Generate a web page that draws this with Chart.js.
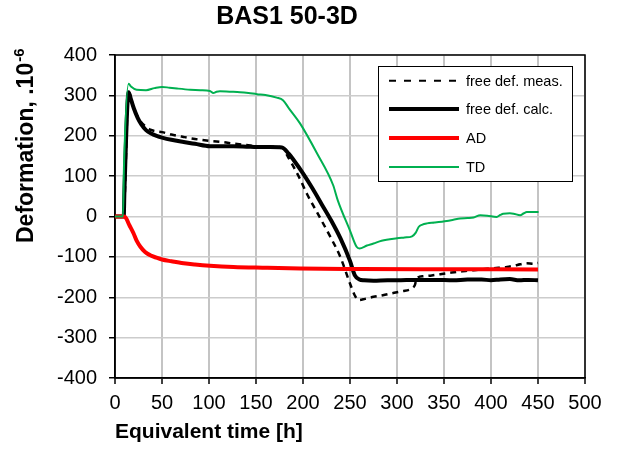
<!DOCTYPE html>
<html>
<head>
<meta charset="utf-8">
<script src="https://cdn.jsdelivr.net/npm/chart.js@4.4.0/dist/chart.umd.min.js"></script>
<style>
  body { margin: 0; background: #fff; }
</style>
</head>
<body>
<canvas id="chart" width="624" height="450"></canvas>
<script>
// data (time in h, deformation in 1e-6)
const measT = [0, 9, 14.5, 20, 27, 33, 37.5, 44, 50, 60, 73, 85, 101, 115, 126, 140, 151, 165, 177.6, 184, 190, 197, 204, 215, 229, 239.7, 250, 255, 259, 266, 275, 285, 293, 305, 316, 319, 321, 328, 337, 346, 355, 364, 373, 381.5, 390, 399, 408, 417, 428, 438, 445, 450];
const measY = [0, 0, 308, 268, 236, 222, 215, 211, 209, 203, 197, 192, 187, 184, 180.6, 177, 174, 173, 171, 148, 123, 92, 57, 10, -50, -100, -166, -195, -207, -204, -199, -195, -191, -185, -178, -170, -153, -148, -146, -143, -140, -137, -135, -133, -131, -129, -127, -125, -120, -116, -117, -115];

const calcT = [0, 9.3, 10, 14.5, 17, 20, 24, 28, 33, 38, 45, 50, 60, 73, 85, 101, 115, 126, 140, 151, 165, 177.6, 185, 190, 200, 210, 220, 230, 240, 250, 255, 260, 265, 275, 290, 300, 320, 340, 360, 375, 390, 400, 410, 420, 430, 440, 450];
const calcY = [0, 0, 60, 308, 290, 268, 245, 228, 214, 206, 199, 195.5, 190, 184.6, 180, 174, 174, 174, 173, 172, 172, 171, 155, 140, 107, 70, 30, -10, -55, -110, -145, -156, -158, -159, -158, -158, -157, -157, -158, -156, -156, -158, -156, -155, -158, -157, -158];

const adT = [0, 10, 12, 15, 19.8, 23, 27, 32, 37.5, 44, 50, 60, 73, 85, 101, 126, 162, 197, 261, 350, 450];
const adY = [0, 0, -5, -20, -42, -60, -75, -88, -96, -102, -106.6, -111, -116, -119, -122, -125, -127, -129, -130, -130.5, -131];

const tdT = [0, 8.5, 9.5, 14.5, 17, 23, 33, 42, 50, 58, 66, 80, 90.7, 101, 104.6, 108, 111.7, 122, 133, 142, 151, 160, 172, 178.7, 185, 197, 215, 232, 237, 250, 257, 260, 268, 275, 283.6, 300, 308, 316, 320, 323, 327, 332, 340, 353, 360, 367, 375, 381.5, 388.6, 396, 406, 410, 413, 420, 424, 431, 435, 438, 445, 450.6];
const tdY = [0, 0, 120, 329, 322, 314, 313, 318, 321, 319, 317, 314, 312.6, 311, 306, 309, 310, 309, 308, 306, 303, 301, 294.5, 288, 268, 230, 156, 78, 40, -35, -75, -79, -72, -67, -60, -54, -52, -49, -40, -26, -20, -17, -15, -11, -8, -5, -4, -2.5, 3, 2, -1, 4, 7, 8, 7, 3, 8, 11, 11, 11];

const xTicks = [0, 50, 100, 150, 200, 250, 300, 350, 400, 450, 500];
const yTicks = [-400, -300, -200, -100, 0, 100, 200, 300, 400];

const seriesNames = ['free def. meas.', 'free def. calc.', 'AD', 'TD'];

const FONT = "'Liberation Sans', Arial, sans-serif";

function toPoints(t, y) {
    let pts = [];
    for (let i = 0; i < t.length; i++) {
        pts.push({ x: t[i], y: y[i] });
    }
    return pts;
}

// title, y-title with superscript, box and legend
const extras = {
    id: 'extras',
    beforeDatasetsDraw(chart) {
        const ctx = chart.ctx;
        const a = chart.chartArea;
        ctx.save();
        ctx.strokeStyle = '#000';
        ctx.lineWidth = 1.5;
        ctx.strokeRect(a.left, a.top, a.right - a.left, a.bottom - a.top);
        ctx.restore();
    },
    afterDraw(chart) {
        const ctx = chart.ctx;
        ctx.save();
        ctx.fillStyle = '#000';

        // chart title
        ctx.font = "bold 25px " + FONT;
        ctx.textAlign = 'center';
        ctx.textBaseline = 'middle';
        ctx.fillText('BAS1 50-3D', 287, 17);

        // y axis title
        ctx.save();
        ctx.translate(33, 243);
        ctx.rotate(-Math.PI / 2);
        ctx.textAlign = 'left';
        ctx.textBaseline = 'alphabetic';
        ctx.font = "bold 23px " + FONT;
        const main = 'Deformation, .10';
        ctx.fillText(main, 0, 0);
        const w = ctx.measureText(main).width;
        ctx.font = "bold 15px " + FONT;
        ctx.fillText('-6', w + 1, -9);
        ctx.restore();

        // legend
        const lx = 378.5, ly = 66.5, lw = 194, lh = 115;
        ctx.fillStyle = '#fff';
        ctx.fillRect(lx, ly, lw, lh);
        ctx.strokeStyle = '#000';
        ctx.lineWidth = 1;
        ctx.strokeRect(lx, ly, lw, lh);

        const rows = [80.7, 109, 138, 167];
        const styles = [
            { c: '#000', w: 2, d: [7, 8] },
            { c: '#000', w: 4, d: [] },
            { c: '#ff0000', w: 4, d: [] },
            { c: '#00b050', w: 2, d: [] }
        ];
        ctx.font = "14.5px " + FONT;
        ctx.textAlign = 'left';
        ctx.textBaseline = 'middle';
        for (let i = 0; i < rows.length; i++) {
            ctx.beginPath();
            ctx.strokeStyle = styles[i].c;
            ctx.lineWidth = styles[i].w;
            ctx.setLineDash(styles[i].d);
            ctx.moveTo(389, rows[i]);
            ctx.lineTo(459, rows[i]);
            ctx.stroke();
            ctx.setLineDash([]);
            ctx.fillStyle = '#000';
            ctx.fillText(seriesNames[i], 466, rows[i] + 1);
        }
        ctx.restore();
    }
};

function createChart() {
    const config = {
        type: 'line',
        data: {
            datasets: [{
                label: seriesNames[0],
                data: toPoints(measT, measY),
                borderColor: '#000',
                borderWidth: 2.5,
                borderDash: [6, 5],
                order: 4
            }, {
                label: seriesNames[1],
                data: toPoints(calcT, calcY),
                borderColor: '#000',
                borderWidth: 4,
                order: 3
            }, {
                label: seriesNames[2],
                data: toPoints(adT, adY),
                borderColor: '#ff0000',
                borderWidth: 4,
                order: 2
            }, {
                label: seriesNames[3],
                data: toPoints(tdT, tdY),
                borderColor: '#00b050',
                borderWidth: 2,
                order: 1
            }]
        },
        options: {
            responsive: false,
            animation: false,
            elements: {
                point: { radius: 0 },
                line: { cubicInterpolationMode: 'monotone', fill: false, borderJoinStyle: 'round' }
            },
            layout: {
                padding: { left: 0, top: 55, right: 39, bottom: 0 }
            },
            plugins: {
                legend: { display: false },
                title: { display: false },
                tooltip: { enabled: false }
            },
            scales: {
                x: {
                    type: 'linear',
                    min: 0,
                    max: 500,
                    afterBuildTicks: (s) => { s.ticks = xTicks.map(v => ({ value: v })); },
                    afterFit: (s) => { s.height = 72; },
                    grid: { color: '#c4c4c4', lineWidth: 2, tickColor: '#000', tickLength: 6, tickWidth: 1.5 },
                    border: { color: '#000', width: 1.5 },
                    ticks: { color: '#000', padding: 7, maxRotation: 0, font: { family: FONT, size: 20 } },
                    title: {
                        display: true,
                        text: 'Equivalent time [h]',
                        align: 'start',
                        color: '#000',
                        padding: { top: 0, bottom: 5 },
                        font: { family: FONT, size: 21, weight: 'bold' }
                    }
                },
                y: {
                    min: -400,
                    max: 400,
                    afterBuildTicks: (s) => { s.ticks = yTicks.map(v => ({ value: v })); },
                    afterFit: (s) => { s.width = 115; },
                    grid: { color: '#cccccc', lineWidth: 1.5, tickColor: '#000', tickLength: 6, tickWidth: 1.5 },
                    border: { color: '#000', width: 1.5 },
                    ticks: { color: '#000', padding: 12, font: { family: FONT, size: 20 } }
                }
            }
        },
        plugins: [extras]
    };
    let canvas = document.getElementById('chart');
    let ctx = canvas.getContext("2d");
    new Chart(ctx, config);
}

createChart();
</script>
</body>
</html>
